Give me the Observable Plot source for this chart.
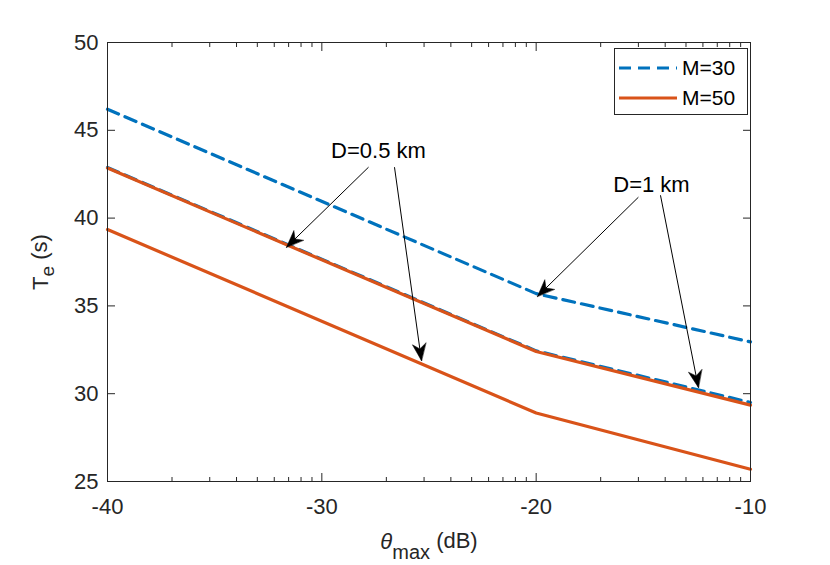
<!DOCTYPE html>
<html>
<head>
<meta charset="utf-8">
<script src="https://cdn.jsdelivr.net/npm/d3@7"></script>
<script src="https://cdn.jsdelivr.net/npm/@observablehq/plot@0.6"></script>
<style>
  body { margin: 0; background: #fff; }
  #wrap { position: relative; width: 830px; height: 565px; }
  #legend { position: absolute; left: 614px; top: 48px; width: 134px; height: 67px; border: 1px solid #262626; background: #fff;
            font-family: "Liberation Sans", Arial, sans-serif; font-size: 21px; color: #000; box-sizing: border-box; }
  .lg-row { position: absolute; left: 4px; height: 26px; display: flex; align-items: center; }
  .lg-row span { margin-left: 5px; }
</style>
</head>
<body>
<div id="wrap"><div id="chart"></div><div id="legend"></div></div>
<script>
// ---------- data ----------
const theta = [-40, -20, -10];                 // θ_max (dB) break points
const m30_d1  = [46.2, 35.7, 32.95];           // M=30, D=1 km
const m30_d05 = [42.88, 32.44, 29.5];          // M=30, D=0.5 km
const m50_d1  = [42.85, 32.4, 29.35];          // M=50, D=1 km
const m50_d05 = [39.35, 28.9, 25.7];           // M=50, D=0.5 km

const xTicks = [-40, -30, -20, -10];
const xTickLabels = ["-40", "-30", "-20", "-10"];
const xMinorOffsets = [3.01, 4.77, 6.02, 6.99, 7.78, 8.45, 9.03, 9.54];
const yTicks = [25, 30, 35, 40, 45, 50];
const yTickLabels = ["25", "30", "35", "40", "45", "50"];

const legendLabels = ["M=30", "M=50"];
const legendColors = ["#0072BD", "#D95319"];
const legendDash = ["12,7", null];

const annotationLabels = ["D=0.5 km", "D=1 km"];
const annotationX = [-27.36, -14.62];
const annotationY = [43.82, 41.88];

const arrowX1 = [-27.82, -26.61, -15.23, -14.20];
const arrowY1 = [42.90, 42.90, 41.19, 41.30];
const arrowX2 = [-31.65, -25.35, -19.94, -12.43];
const arrowY2 = [38.34, 31.88, 35.54, 30.35];

// ---------- tables ----------
const series = [
  {name: "M=30, D=1 km",   values: m30_d1,  color: legendColors[0], dash: legendDash[0]},
  {name: "M=30, D=0.5 km", values: m30_d05, color: legendColors[0], dash: legendDash[0]},
  {name: "M=50, D=1 km",   values: m50_d1,  color: legendColors[1], dash: legendDash[1]},
  {name: "M=50, D=0.5 km", values: m50_d05, color: legendColors[1], dash: legendDash[1]},
];
const xMinor = [];
for (let d = 0; d < xTicks.length - 1; d++) for (const o of xMinorOffsets) xMinor.push(xTicks[d] + o);
const annotations = annotationLabels.map((label, i) => ({label, x: annotationX[i], y: annotationY[i]}));
const arrows = arrowX1.map((x1, i) => ({x1, y1: arrowY1[i], x2: arrowX2[i], y2: arrowY2[i]}));

const headShape = {
  draw(ctx, l) {
    const w = l * 0.4;
    ctx.moveTo(0, -l);
    ctx.lineTo(w, 0);
    ctx.lineTo(0, -l * 0.3);
    ctx.lineTo(-w, 0);
    ctx.closePath();
  }
};

const axisColor = "#262626";
const font = "Liberation Sans, Arial, sans-serif";

function makeChart(heads) {
  const lineMarks = series.map(s => Plot.line(s.values.map((v, i) => ({x: theta[i], y: v})), {
    x: "x", y: "y", stroke: s.color, strokeWidth: 3.2, strokeDasharray: s.dash ?? undefined, strokeLinejoin: "round"
  }));
  return Plot.plot({
    width: 830, height: 565,
    marginLeft: 107, marginRight: 80, marginTop: 42, marginBottom: 84,
    style: {fontFamily: font, fontSize: "22px", color: axisColor, background: "white", overflow: "visible"},
    x: {domain: [-40, -10]},
    y: {domain: [25, 50]},
    marks: [
      ...lineMarks,
      Plot.link(arrows, {x1: "x1", y1: "y1", x2: "x2", y2: "y2", stroke: "black", strokeWidth: 1}),
      heads ? Plot.vector(heads, {x: "x2", y: "y2", rotate: "rotate", length: 17, anchor: "end", shape: headShape,
                                   fill: "black", stroke: "black", strokeWidth: 0.5}) : null,
      Plot.text(annotations, {x: "x", y: "y", text: "label", fill: "black", fontSize: 22}),
      Plot.frame({stroke: axisColor, strokeWidth: 1}),
      // major ticks (inward)
      Plot.axisX(xTicks, {anchor: "bottom", tickSize: -8, fill: "none", label: null, stroke: axisColor}),
      Plot.axisX(xTicks, {anchor: "top", tickSize: -8, fill: "none", label: null, stroke: axisColor}),
      Plot.axisX(xMinor, {anchor: "bottom", tickSize: -4, fill: "none", label: null, stroke: axisColor}),
      Plot.axisX(xMinor, {anchor: "top", tickSize: -4, fill: "none", label: null, stroke: axisColor}),
      Plot.axisY(yTicks, {anchor: "left", tickSize: -8, fill: "none", label: null, stroke: axisColor}),
      Plot.axisY(yTicks, {anchor: "right", tickSize: -8, fill: "none", label: null, stroke: axisColor}),
      // tick labels
      Plot.axisX(xTicks, {anchor: "bottom", tickSize: 0, tickPadding: 17, label: null, fontSize: 22,
                          tickFormat: d => xTickLabels[xTicks.indexOf(d)]}),
      Plot.axisY(yTicks, {anchor: "left", tickSize: 0, tickPadding: 9, label: null, fontSize: 22,
                          tickFormat: d => yTickLabels[yTicks.indexOf(d)]}),
      // axis titles (subscripts added below)
      Plot.text(["__YLABEL__"], {frameAnchor: "left", dx: -67, rotate: -90, textAnchor: "middle", lineAnchor: "middle",
                                 fontSize: 22, fill: axisColor}),
      Plot.text(["__XLABEL__"], {frameAnchor: "bottom", dy: 60, textAnchor: "middle", lineAnchor: "middle",
                                 fontSize: 22, fill: axisColor}),
    ]
  });
}

const pre = makeChart(null);
const sx = pre.scale("x"), sy = pre.scale("y");
const heads = arrows.map(a => {
  const dx = sx.apply(a.x2) - sx.apply(a.x1);
  const dy = sy.apply(a.y2) - sy.apply(a.y1);
  return {...a, rotate: Math.atan2(dx, -dy) * 180 / Math.PI};
});
const chart = makeChart(heads);
document.getElementById("chart").appendChild(chart);

// axis titles with sub-scripts
d3.select(chart).selectAll("text").each(function () {
  const t = d3.select(this);
  if (this.textContent === "__YLABEL__") {
    t.text(null);
    t.append("tspan").text("T");
    t.append("tspan").attr("dy", "0.35em").attr("font-size", 19).text("e");
    t.append("tspan").attr("dy", "-0.35em").text(" (s)");
  } else if (this.textContent === "__XLABEL__") {
    t.text(null);
    t.append("tspan").attr("font-style", "italic").text("θ");
    t.append("tspan").attr("dy", "0.5em").attr("font-size", 20).text("max");
    t.append("tspan").attr("dy", "-0.5em").text(" (dB)");
  }
});

// legend
const legend = d3.select("#legend");
legendLabels.forEach((lab, i) => {
  const row = legend.append("div").attr("class", "lg-row").style("top", (6 + i * 30) + "px");
  const s = row.append("svg").attr("width", 58).attr("height", 10);
  s.append("line").attr("x1", 0).attr("x2", 58).attr("y1", 5).attr("y2", 5)
    .attr("stroke", legendColors[i]).attr("stroke-width", 3.2)
    .attr("stroke-dasharray", legendDash[i]);
  row.append("span").text(lab);
});
</script>
</body>
</html>
